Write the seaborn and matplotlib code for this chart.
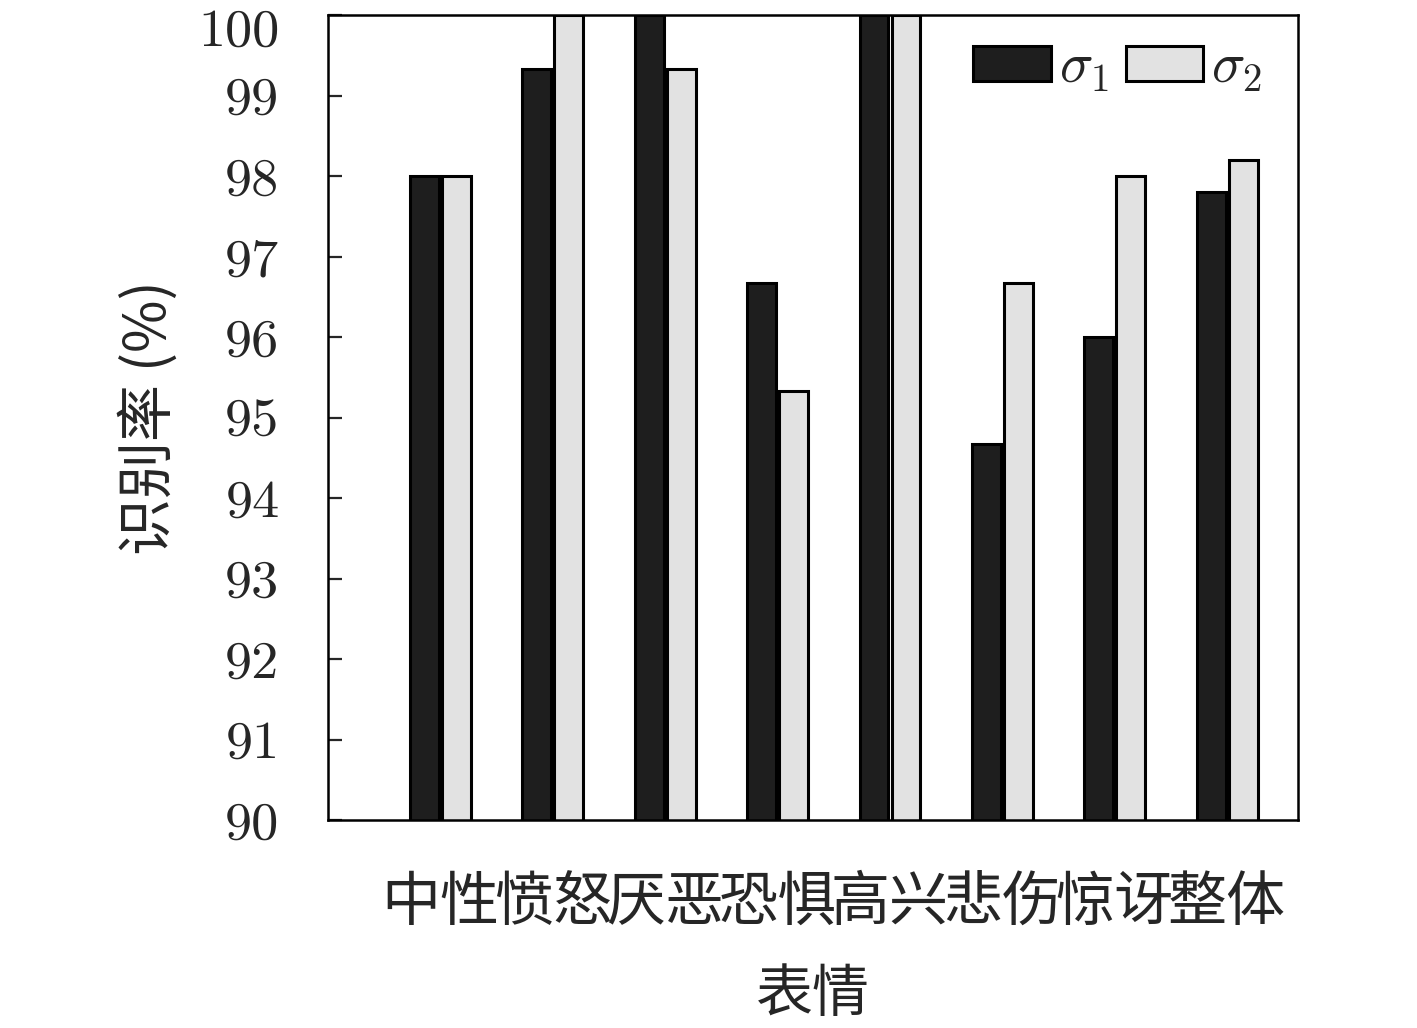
import matplotlib
matplotlib.use("Agg")
import matplotlib.pyplot as plt
import matplotlib.transforms as mtransforms
import seaborn as sns
import pandas as pd

categories = ["中性", "愤怒", "厌恶", "恐惧", "高兴", "悲伤", "惊讶", "整体"]
sigma1 = [98.0, 99.33, 100.0, 96.67, 100.0, 94.67, 96.0, 97.8]
sigma2 = [98.0, 100.0, 99.33, 95.33, 100.0, 96.67, 98.0, 98.2]
series_labels = [r"$\sigma_1$", r"$\sigma_2$"]
yticks = [90, 91, 92, 93, 94, 95, 96, 97, 98, 99, 100]

df = pd.DataFrame({
    "cat": categories * 2,
    "val": sigma1 + sigma2,
    "series": [series_labels[0]] * len(categories) + [series_labels[1]] * len(categories),
})

sns.set_style("ticks")
plt.rcParams["mathtext.fontset"] = "cm"
plt.rcParams["font.family"] = ["Noto Sans CJK SC", "DejaVu Sans"]

fig = plt.figure(figsize=(14.17, 10.28), dpi=100)
ax = fig.add_axes([0.2315, 0.2023, 0.916 - 0.2315, 0.9854 - 0.2023])

sns.barplot(data=df, x="cat", y="val", hue="series", order=categories,
            hue_order=series_labels, palette=["#1e1e1e", "#e2e2e2"],
            width=0.57, gap=0.1, edgecolor="black", linewidth=2.2,
            ax=ax, errorbar=None)

ax.set_ylim(90, 100)
ax.set_xlim(-1.0, 7.63)
ax.set_yticks(yticks)
ax.set_yticklabels([str(t) for t in yticks], fontfamily="cmr10", fontsize=39)
ax.tick_params(axis="y", direction="in", length=10, width=1.6, pad=35, left=True, right=False)
ax.tick_params(axis="x", length=0, pad=38)
for lbl in ax.get_xticklabels():
    lbl.set_fontsize(42.5)
    lbl.set_fontfamily(["Noto Sans CJK SC", "DejaVu Sans"])

# top label nudged down slightly so it stays inside the figure
top_lbl = ax.get_yticklabels()[-1]
top_lbl.set_transform(top_lbl.get_transform() +
                      mtransforms.ScaledTranslation(0, -12 / 100, fig.dpi_scale_trans))

for s in ax.spines.values():
    s.set_visible(True)
    s.set_linewidth(1.8)
    s.set_color("black")

ax.set_xlabel("表情", fontsize=41, labelpad=23)
ax.set_ylabel("识别率 (%)", fontsize=41, labelpad=14)

handles, labels = ax.get_legend_handles_labels()
ax.legend(handles, labels, loc="upper right", bbox_to_anchor=(1.009, 1.026),
          ncol=2, frameon=False, fontsize=40, handlelength=1.4, handleheight=0.58,
          handletextpad=0.14, columnspacing=0.3, borderpad=0.3)

fig.savefig("out.png", dpi=100)
